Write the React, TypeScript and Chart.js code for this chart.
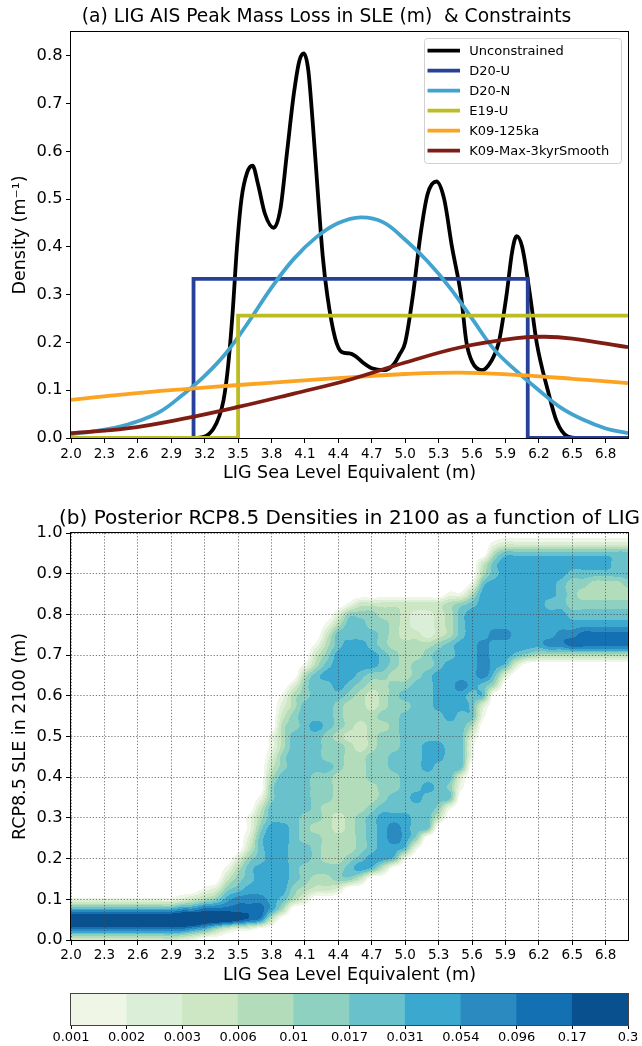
import React, { useEffect, useRef } from "react";
import { Chart, registerables } from "chart.js";

Chart.register(...registerables);

const FONT = "'DejaVu Sans', 'Liberation Sans', sans-serif";

// ---------- Panel (a) data ----------
const xTickValues = [2.0, 2.3, 2.6, 2.9, 3.2, 3.5, 3.8, 4.1, 4.4, 4.7, 5.0, 5.3, 5.6, 5.9, 6.2, 6.5, 6.8];
const densityTickValues = [0, 0.1, 0.2, 0.3, 0.4, 0.5, 0.6, 0.7, 0.8];

const unconstrainedX = [2.0, 3.1, 3.2, 3.28, 3.33, 3.37, 3.41, 3.45, 3.49, 3.53, 3.58, 3.63, 3.68, 3.74, 3.82, 3.88, 3.94, 4.0, 4.05, 4.09, 4.13, 4.17, 4.22, 4.26, 4.3, 4.37, 4.43, 4.5, 4.55, 4.62, 4.7, 4.81, 4.9, 4.95, 5.0, 5.07, 5.14, 5.2, 5.28, 5.35, 5.42, 5.5, 5.55, 5.6, 5.69, 5.77, 5.84, 5.91, 5.96, 6.0, 6.05, 6.12, 6.18, 6.28, 6.36, 6.46, 6.55, 7.0];
const unconstrainedY = [0, 0, 0.003, 0.02, 0.045, 0.08, 0.15, 0.26, 0.4, 0.5, 0.555, 0.57, 0.53, 0.47, 0.44, 0.48, 0.6, 0.72, 0.79, 0.805, 0.77, 0.66, 0.5, 0.38, 0.3, 0.21, 0.18, 0.177, 0.172, 0.158, 0.146, 0.142, 0.155, 0.175, 0.2, 0.3, 0.43, 0.51, 0.537, 0.5, 0.4, 0.3, 0.2, 0.16, 0.142, 0.16, 0.2, 0.3, 0.39, 0.4225, 0.4, 0.3, 0.2, 0.1, 0.035, 0.003, 0, 0];

const d20uX = [2.0, 3.1, 3.1, 6.1, 6.1, 7.0];
const d20uY = [0, 0, 0.333, 0.333, 0, 0];

const d20nX = [2.0, 2.2, 2.4, 2.6, 2.8, 3.0, 3.2, 3.4, 3.6, 3.8, 4.0, 4.2, 4.4, 4.6, 4.8, 5.0, 5.2, 5.4, 5.6, 5.8, 6.0, 6.2, 6.4, 6.6, 6.8, 7.0];
const d20nY = [0.008, 0.014, 0.022, 0.035, 0.055, 0.09, 0.13, 0.18, 0.245, 0.315, 0.375, 0.42, 0.45, 0.462, 0.452, 0.415, 0.37, 0.315, 0.25, 0.185, 0.14, 0.1, 0.063, 0.038, 0.02, 0.01];

const e19uX = [2.0, 3.5, 3.5, 7.0];
const e19uY = [0, 0, 0.256, 0.256];

const k09aX = [2.0, 2.5, 3.0, 3.5, 4.0, 4.5, 5.0, 5.5, 6.0, 6.5, 7.0];
const k09aY = [0.08, 0.092, 0.102, 0.111, 0.119, 0.127, 0.134, 0.137, 0.132, 0.124, 0.115];

const k09mX = [2.0, 2.5, 3.0, 3.5, 4.0, 4.5, 5.0, 5.5, 6.0, 6.25, 6.5, 7.0];
const k09mY = [0.01, 0.02, 0.04, 0.065, 0.093, 0.122, 0.158, 0.19, 0.209, 0.212, 0.208, 0.19];

const seriesLabels = ["Unconstrained", "D20-U", "D20-N", "E19-U", "K09-125ka", "K09-Max-3kyrSmooth"];
const seriesColors = ["#000000", "#27409a", "#43a3cf", "#bcbd22", "#fca421", "#7f1d14"];

// ---------- Panel (b) data ----------
const sleTickValues = [0, 0.1, 0.2, 0.3, 0.4, 0.5, 0.6, 0.7, 0.8, 0.9, 1.0];
// grid columns: LIG 2.0 .. 7.0 every 0.1 (groups of ten); rows: RCP8.5 SLE 1.000 (first) .. 0.000 (last) every 0.025
// each character = colour band at that grid node (0 = below 0.001, 1..9, a,b,c = darkest band)
const gridX0 = 2.0;
const gridDX = 0.1;
const gridY0 = 0.0;
const gridDY = 0.025;
const densityRows = [
  "0000000000 0000000000 0000000000 0000000000 0000000000 0", // 1.000
  "0000000000 0000000000 0000000000 0000000012 2222222222 2", // 0.975
  "0000000000 0000000000 0000000000 0000000046 6666666666 6", // 0.950
  "0000000000 0000000000 0000000000 0000000367 7777777776 6", // 0.925
  "0000000000 0000000000 0000000000 0000000467 7777766666 6", // 0.900
  "0000000000 0000000000 0000000000 0000001677 7777655444 5", // 0.875
  "0000000000 0000000000 0000000000 0000114777 7777654444 4", // 0.850
  "0000000000 0000000000 0000013333 3333456777 7776655555 5", // 0.825
  "0000000000 0000000000 0000255544 3223467777 7777766666 6", // 0.800
  "0000000000 0000000000 0001466554 3223467777 7777777777 7", // 0.775
  "0000000000 0000000000 0003666654 3323467788 7777889999 9", // 0.750
  "0000000000 0000000000 0014677654 4445677877 7778899999 9", // 0.725
  "0000000000 0000000000 0035777765 4456677877 6544444444 4", // 0.700
  "0000000000 0000000000 0146777765 4556777876 2000000000 0", // 0.675
  "0000000000 0000000000 0467776554 4567777862 0000000000 0", // 0.650
  "0000000000 0000000000 2566765445 5667787640 0000000000 0", // 0.625
  "0000000000 0000000001 4566654345 6667776600 0000000000 0", // 0.600
  "0000000000 0000000002 4666544345 5667776200 0000000000 0", // 0.575
  "0000000000 0000000003 5666544455 6666766100 0000000000 0", // 0.550
  "0000000000 0000000004 5676543445 6666664000 0000000000 0", // 0.525
  "0000000000 0000000014 6665433455 6666662000 0000000000 0", // 0.500
  "0000000000 0000000014 6665543455 6677661000 0000000000 0", // 0.475
  "0000000000 0000000025 6665544556 6677661000 0000000000 0", // 0.450
  "0000000000 0000000035 6666544556 6676660000 0000000000 0", // 0.425
  "0000000000 0000000046 6655444555 6666620000 0000000000 0", // 0.400
  "0000000000 0000000056 6655444455 6676510000 0000000000 0", // 0.375
  "0000000000 0000000156 6655444456 6766600000 0000000000 0", // 0.350
  "0000000000 0000000366 6654444566 6665100000 0000000000 0", // 0.325
  "0000000000 0000001466 6554345677 7663000000 0000000000 0", // 0.300
  "0000000000 0000001577 6544345678 7660000000 0000000000 0", // 0.275
  "0000000000 0000002677 6554445678 7500000000 0000000000 0", // 0.250
  "0000000000 0000003677 6654445677 6100000000 0000000000 0", // 0.225
  "0000000000 0000025677 6654456776 1000000000 0000000000 0", // 0.200
  "0000000000 0000146777 6555567630 0000000000 0000000000 0", // 0.175
  "0000000000 0000356777 6544553000 0000000000 0000000000 0", // 0.150
  "0000000000 0012567777 5433200000 0000000000 0000000000 0", // 0.125
  "1111111111 2345788876 4200000000 0000000000 0000000000 0", // 0.100
  "7777777777 8899999974 0000000000 0000000000 0000000000 0", // 0.075
  "cccccccccc ccbbba9830 0000000000 0000000000 0000000000 0", // 0.050
  "8888888888 8764211000 0000000000 0000000000 0000000000 0", // 0.025
  "3333333333 2100000000 0000000000 0000000000 0000000000 0", // 0.000
];

// colour bands
const levelTickLabels = ["0.001", "0.002", "0.003", "0.006", "0.01", "0.017", "0.031", "0.054", "0.096", "0.17", "0.3"];
const levelColors = ["#eff6e6", "#dbefd8", "#cde7c5", "#b2dcba", "#8fd1c1", "#68c1cb", "#3ba8d0", "#2b8abf", "#1370b2", "#09508f"];
const levelBands = ["0.001-0.002", "0.002-0.003", "0.003-0.006", "0.006-0.01", "0.01-0.017", "0.017-0.031", "0.031-0.054", "0.054-0.096", "0.096-0.17", "0.17-0.3"];
const levelBandHeights = [1, 1, 1, 1, 1, 1, 1, 1, 1, 1];
const levelTickPositions = [0, 1, 2, 3, 4, 5, 6, 7, 8, 9, 10];

// ---------- helpers ----------
const zip = (xs: number[], ys: number[]) => xs.map((x, i) => ({ x, y: ys[i] }));
const hexToRgb = (h: string) => [parseInt(h.slice(1, 3), 16), parseInt(h.slice(3, 5), 16), parseInt(h.slice(5, 7), 16)];

const fixedTicks = (values: number[]) => (scale: any) => {
  scale.ticks = values.map((v) => ({ value: v }));
};

const framePlugin = {
  id: "frame",
  afterDraw(chart: any) {
    const { ctx, chartArea: a } = chart;
    ctx.save();
    ctx.strokeStyle = chart.options.plugins.frame?.color || "#000";
    ctx.lineWidth = 1;
    ctx.strokeRect(a.left - 0.5, a.top - 0.5, a.right - a.left + 1, a.bottom - a.top + 1);
    ctx.restore();
  },
};

const makeTitlePlugin = (text: string, cx: number, cy: number, size: number) => ({
  id: "panelTitle",
  afterDraw(chart: any) {
    const ctx = chart.ctx;
    ctx.save();
    ctx.font = `${size}px ${FONT}`;
    ctx.fillStyle = "#000";
    ctx.textAlign = "center";
    ctx.textBaseline = "middle";
    ctx.fillText(text, cx, cy);
    ctx.restore();
  },
});

const legendPlugin = {
  id: "legendBox",
  afterDraw(chart: any) {
    const ctx = chart.ctx;
    const x0 = 424.5, y0 = 38.5, w = 197, h = 125, r = 3;
    ctx.save();
    ctx.beginPath();
    ctx.moveTo(x0 + r, y0);
    ctx.lineTo(x0 + w - r, y0);
    ctx.quadraticCurveTo(x0 + w, y0, x0 + w, y0 + r);
    ctx.lineTo(x0 + w, y0 + h - r);
    ctx.quadraticCurveTo(x0 + w, y0 + h, x0 + w - r, y0 + h);
    ctx.lineTo(x0 + r, y0 + h);
    ctx.quadraticCurveTo(x0, y0 + h, x0, y0 + h - r);
    ctx.lineTo(x0, y0 + r);
    ctx.quadraticCurveTo(x0, y0, x0 + r, y0);
    ctx.closePath();
    ctx.fillStyle = "rgba(255,255,255,0.8)";
    ctx.fill();
    ctx.strokeStyle = "#d0d0d0";
    ctx.lineWidth = 1;
    ctx.stroke();
    chart.data.datasets.forEach((ds: any, k: number) => {
      const y = 50.7 + 20 * k;
      ctx.beginPath();
      ctx.moveTo(427.5, y);
      ctx.lineTo(460, y);
      ctx.strokeStyle = ds.borderColor;
      ctx.lineWidth = 3.8;
      ctx.stroke();
      ctx.fillStyle = "#000";
      ctx.font = `13px ${FONT}`;
      ctx.textAlign = "left";
      ctx.textBaseline = "middle";
      ctx.fillText(ds.label, 469.3, y + 0.5);
    });
    ctx.restore();
  },
};

// Catmull-Rom weights
const crWeights = (t: number) => {
  const t2 = t * t, t3 = t2 * t;
  return [0.5 * (-t + 2 * t2 - t3), 0.5 * (2 - 5 * t2 + 3 * t3), 0.5 * (t + 4 * t2 - 3 * t3), 0.5 * (-t2 + t3)];
};

const contourPlugin = {
  id: "contourFill",
  beforeDraw(chart: any) {
    const { ctx, chartArea: a, scales } = chart;
    const xs = scales.x, ys = scales.y;
    const grid = densityRows
      .map((r) => r.replace(/\s+/g, "").split("").map((c) => {
        const k = parseInt(c, 36);
        return k === 0 ? 0 : k + 0.5;
      }))
      .reverse();
    const ny = grid.length, nx = grid[0].length;
    const rgb = levelColors.map(hexToRgb);
    const left = Math.round(a.left), top = Math.round(a.top);
    const w = Math.round(a.right) - left, h = Math.round(a.bottom) - top;
    const off = document.createElement("canvas");
    off.width = w;
    off.height = h;
    const octx = off.getContext("2d")!;
    const img = octx.createImageData(w, h);
    const data = img.data;
    const clampI = (i: number, n: number) => Math.max(0, Math.min(n - 1, i));
    const colI: number[] = [], colW: number[][] = [];
    for (let px = 0; px < w; px++) {
      const xv = xs.getValueForPixel(left + px + 0.5);
      let fi = (xv - gridX0) / gridDX;
      fi = Math.max(0, Math.min(nx - 1, fi));
      const i0 = Math.min(Math.floor(fi), nx - 2);
      colI.push(i0);
      colW.push(crWeights(fi - i0));
    }
    for (let py = 0; py < h; py++) {
      const yv = ys.getValueForPixel(top + py + 0.5);
      let fj = (yv - gridY0) / gridDY;
      fj = Math.max(0, Math.min(ny - 1, fj));
      const j0 = Math.min(Math.floor(fj), ny - 2);
      const wy = crWeights(fj - j0);
      const rows = [grid[clampI(j0 - 1, ny)], grid[j0], grid[j0 + 1], grid[clampI(j0 + 2, ny)]];
      for (let px = 0; px < w; px++) {
        const i0 = colI[px], wx = colW[px];
        const ia = clampI(i0 - 1, nx), ib = i0, ic = i0 + 1, id = clampI(i0 + 2, nx);
        let v = 0;
        for (let k = 0; k < 4; k++) {
          const r = rows[k];
          v += wy[k] * (wx[0] * r[ia] + wx[1] * r[ib] + wx[2] * r[ic] + wx[3] * r[id]);
        }
        const c00 = grid[j0][ib], c01 = grid[j0][ic], c10 = grid[j0 + 1][ib], c11 = grid[j0 + 1][ic];
        const lo = Math.min(c00, c01, c10, c11), hi = Math.max(c00, c01, c10, c11);
        if (v < lo) v = lo;
        if (v > hi) v = hi;
        const band = Math.min(Math.floor(v), 10);
        if (band >= 1) {
          const c = rgb[band - 1];
          const o = (py * w + px) * 4;
          data[o] = c[0];
          data[o + 1] = c[1];
          data[o + 2] = c[2];
          data[o + 3] = 255;
        }
      }
    }
    octx.putImageData(img, 0, 0);
    ctx.drawImage(off, left, top);
  },
};

const tickFont = (size: number) => ({ size, family: FONT });

function configA(): any {
  const common = { showLine: true, pointRadius: 0, pointHoverRadius: 0, borderWidth: 3.8, fill: false, clip: 0, borderJoinStyle: "miter" };
  const data = [
    zip(unconstrainedX, unconstrainedY),
    zip(d20uX, d20uY),
    zip(d20nX, d20nY),
    zip(e19uX, e19uY),
    zip(k09aX, k09aY),
    zip(k09mX, k09mY),
  ];
  const mode = ["monotone", "default", "default", "default", "default", "default"];
  const tension = [0, 0, 0.4, 0, 0.4, 0.4];
  return {
    type: "scatter",
    data: {
      datasets: data.map((d, i) => ({
        ...common,
        label: seriesLabels[i],
        data: d,
        borderColor: seriesColors[i],
        backgroundColor: seriesColors[i],
        cubicInterpolationMode: mode[i],
        tension: tension[i],
        order: 6 - i,
      })),
    },
    options: {
      responsive: false,
      animation: false,
      devicePixelRatio: 1,
      events: [],
      layout: { padding: { left: 0, right: 14, top: 32, bottom: 0 } },
      plugins: { legend: { display: false }, tooltip: { enabled: false } },
      scales: {
        x: {
          type: "linear",
          min: 2,
          max: 7,
          afterBuildTicks: fixedTicks(xTickValues),
          afterFit: (s: any) => { s.height = 52; s.paddingLeft = 0; s.paddingRight = 0; },
          ticks: { autoSkip: false, maxRotation: 0, minRotation: 0, padding: 3, color: "#000", font: tickFont(13.5), callback: (v: any) => Number(v).toFixed(1) },
          grid: { display: true, drawOnChartArea: false, drawTicks: true, tickLength: 5, tickColor: "#000", tickWidth: 1 },
          border: { display: false },
          title: { display: true, text: "LIG Sea Level Equivalent (m)", color: "#000", font: tickFont(17.5), padding: { top: 0, bottom: 6.5 } },
        },
        y: {
          type: "linear",
          min: 0,
          max: 0.85,
          afterBuildTicks: fixedTicks(densityTickValues),
          afterFit: (s: any) => { s.width = 71; s.paddingTop = 0; s.paddingBottom = 0; },
          ticks: { autoSkip: false, padding: 3.5, color: "#000", font: tickFont(16.3), callback: (v: any) => Number(v).toFixed(1) },
          grid: { display: true, drawOnChartArea: false, drawTicks: true, tickLength: 5, tickColor: "#000", tickWidth: 1 },
          border: { display: false },
          title: { display: true, text: "Density (m\u207B\u00B9)", color: "#000", font: tickFont(17.5), padding: { top: 10, bottom: 0 } },
        },
      },
    },
    plugins: [framePlugin, legendPlugin, makeTitlePlugin("(a) LIG AIS Peak Mass Loss in SLE (m)  & Constraints", 326.5, 17.3, 18.7)],
  };
}

function configB(): any {
  return {
    type: "scatter",
    data: { datasets: [{ label: "density", data: [], pointRadius: 0 }] },
    options: {
      responsive: false,
      animation: false,
      devicePixelRatio: 1,
      events: [],
      layout: { padding: { left: 0, right: 14, top: 43, bottom: 0 } },
      plugins: { legend: { display: false }, tooltip: { enabled: false } },
      scales: {
        x: {
          type: "linear",
          min: 2,
          max: 7,
          afterBuildTicks: fixedTicks(xTickValues),
          afterFit: (s: any) => { s.height = 50; s.paddingLeft = 0; s.paddingRight = 0; },
          ticks: { autoSkip: false, maxRotation: 0, minRotation: 0, padding: 2, color: "#000", font: tickFont(13.5), callback: (v: any) => Number(v).toFixed(1) },
          grid: { display: true, drawOnChartArea: true, drawTicks: true, tickLength: 5, tickColor: "#000", tickWidth: 1, color: "rgba(70,70,70,0.7)", lineWidth: 1 },
          border: { display: false, dash: [1.3, 1.8] },
          title: { display: true, text: "LIG Sea Level Equivalent (m)", color: "#000", font: tickFont(17.5), padding: { top: 0, bottom: 4.5 } },
        },
        y: {
          type: "linear",
          min: 0,
          max: 1,
          afterBuildTicks: fixedTicks(sleTickValues),
          afterFit: (s: any) => { s.width = 71; s.paddingTop = 0; s.paddingBottom = 0; },
          ticks: { autoSkip: false, padding: 3.5, color: "#000", font: tickFont(16.3), callback: (v: any) => Number(v).toFixed(1) },
          grid: { display: true, drawOnChartArea: true, drawTicks: true, tickLength: 5, tickColor: "#000", tickWidth: 1, color: "rgba(70,70,70,0.7)", lineWidth: 1 },
          border: { display: false, dash: [1.3, 1.8] },
          title: { display: true, text: "RCP8.5 SLE in 2100 (m)", color: "#000", font: tickFont(17.5), padding: { top: 10, bottom: 0 } },
        },
      },
    },
    plugins: [contourPlugin, framePlugin, makeTitlePlugin("(b) Posterior RCP8.5 Densities in 2100 as a function of LIG", 349.5, 28.3, 20)],
  };
}

function configC(): any {
  return {
    type: "bar",
    data: {
      labels: levelBands,
      datasets: [{ label: "levels", data: levelBandHeights, backgroundColor: levelColors, borderWidth: 0, barPercentage: 1, categoryPercentage: 1 }],
    },
    options: {
      responsive: false,
      animation: false,
      devicePixelRatio: 1,
      events: [],
      layout: { padding: { left: 71, right: 14, top: 4, bottom: 0 } },
      plugins: { legend: { display: false }, tooltip: { enabled: false }, frame: { color: "#444" } },
      scales: {
        x: { display: false },
        y: { display: false, min: 0, max: 1 },
        x2: {
          type: "linear",
          position: "bottom",
          offset: false,
          min: 0,
          max: 10,
          afterBuildTicks: fixedTicks(levelTickPositions),
          afterFit: (s: any) => { s.height = 21; s.paddingLeft = 0; s.paddingRight = 0; },
          ticks: { autoSkip: false, maxRotation: 0, minRotation: 0, padding: 1, color: "#000", font: tickFont(13), callback: (v: any) => levelTickLabels[Math.round(Number(v))] },
          grid: { display: true, offset: false, drawOnChartArea: false, drawTicks: true, tickLength: 4, tickColor: "#000", tickWidth: 1 },
          border: { display: false },
        },
      },
    },
    plugins: [framePlugin],
  };
}

export default function App() {
  const refA = useRef<HTMLCanvasElement>(null);
  const refB = useRef<HTMLCanvasElement>(null);
  const refC = useRef<HTMLCanvasElement>(null);

  useEffect(() => {
    Chart.defaults.font.family = FONT;
    const charts = [
      new Chart(refA.current as HTMLCanvasElement, configA()),
      new Chart(refB.current as HTMLCanvasElement, configB()),
      new Chart(refC.current as HTMLCanvasElement, configC()),
    ];
    return () => charts.forEach((c) => c.destroy());
  }, []);

  return (
    <div style={{ position: "absolute", left: 0, top: 0, width: 642, height: 1046, background: "#fff", overflow: "hidden" }}>
      <canvas ref={refA} width={642} height={490} style={{ position: "absolute", left: 0, top: 0, width: 642, height: 490 }} />
      <canvas ref={refB} width={642} height={500} style={{ position: "absolute", left: 0, top: 490, width: 642, height: 500 }} />
      <canvas ref={refC} width={642} height={56} style={{ position: "absolute", left: 0, top: 990, width: 642, height: 56 }} />
    </div>
  );
}
